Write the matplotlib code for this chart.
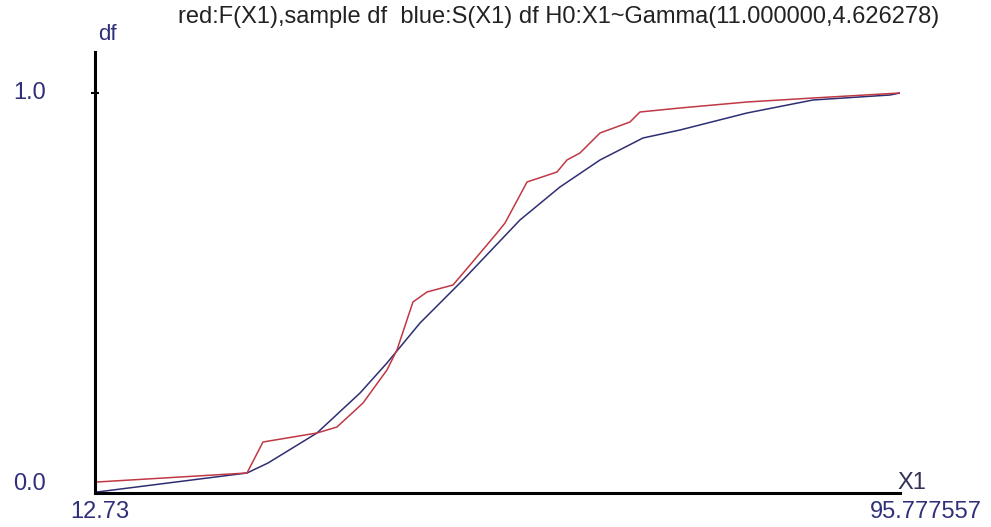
import numpy as np
import matplotlib.pyplot as plt

plt.rcParams['font.family'] = ['Liberation Sans', 'DejaVu Sans']

# sample df (red)
x_red = [12.94, 28.41, 30.06, 35.63, 37.69, 40.38, 42.85, 43.88, 45.53, 46.98,
         49.66, 51.42, 54.20, 55.03, 57.30, 60.39, 61.42, 62.76, 64.83, 67.92,
         68.95, 73.08, 79.99, 86.80, 95.78]
y_red = [0.0275, 0.05, 0.1275, 0.15, 0.165, 0.225, 0.3075, 0.3575, 0.4775, 0.5025,
         0.52, 0.57, 0.65, 0.675, 0.7775, 0.8025, 0.8325, 0.85, 0.90, 0.9275,
         0.9525, 0.9625, 0.9775, 0.9875, 1.0]

# theoretical df (blue)
x_blue = [12.94, 28.41, 30.58, 35.63, 40.07, 42.85, 46.26, 50.69, 56.57, 60.70,
          64.83, 69.26, 73.08, 79.99, 86.80, 94.74, 95.78]
y_blue = [0.0025, 0.05, 0.075, 0.15, 0.25, 0.325, 0.425, 0.5325, 0.6825, 0.765,
          0.8325, 0.8875, 0.9075, 0.95, 0.9825, 0.995, 1.0]

xmin, xmax = 12.73, 95.777557
title = "red:F(X1),sample df  blue:S(X1) df H0:X1~Gamma(11.000000,4.626278)"

W, H = 991, 527
fig = plt.figure(figsize=(W / 100, H / 100), dpi=100)
ax = fig.add_axes([95 / W, 34 / H, 805 / W, 441 / H])

ax.plot(x_blue, y_blue, color='#2e2e72', lw=1.1)
ax.plot(x_red, y_red, color='#c03845', lw=1.1)

ax.set_xlim(xmin, xmax)
ax.set_ylim(0, 1.1025)
for s in ['top', 'right']:
    ax.spines[s].set_visible(False)
for s in ['left', 'bottom']:
    ax.spines[s].set_linewidth(2.2)
    ax.spines[s].set_color('black')
ax.set_xticks([])
ax.set_yticks([1.0])
ax.set_yticklabels([''])
ax.tick_params(axis='y', direction='inout', length=6, width=1.5)

navy = '#30307a'
fs = 17
fig.text(13 / W, 1 - 93 / H, '1.0', color=navy, fontsize=fs, ha='left', va='center')
fig.text(13 / W, 1 - 484 / H, '0.0', color=navy, fontsize=fs, ha='left', va='center')
fig.text(107 / W, 1 - 35 / H, 'df', color=navy, fontsize=16, ha='center', va='center')
fig.text(100 / W, 1 - 512 / H, '12.73', color=navy, fontsize=fs, ha='center', va='center')
fig.text(982 / W, 1 - 512 / H, '95.777557', color=navy, fontsize=fs, ha='right', va='center')
fig.text(897 / W, 1 - 483 / H, 'X1', color='#333355', fontsize=fs, ha='left', va='center')
fig.text(559 / W, 1 - 17 / H, title, color='#222222', fontsize=fs, ha='center', va='center')

fig.savefig('out.png', dpi=100)
